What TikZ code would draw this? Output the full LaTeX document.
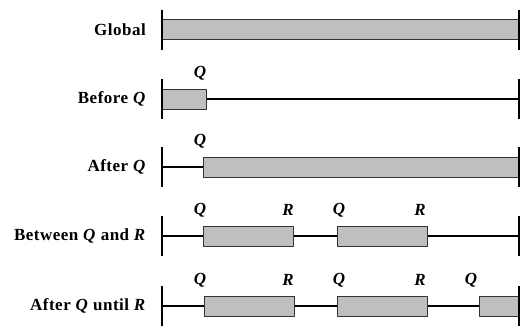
\documentclass[tikz,border=0pt]{standalone}
\usepackage{fontspec}
\setmainfont{Liberation Serif}
\newfontfamily\rowfont[LetterSpace=3]{Liberation Serif}

\begin{document}
\begin{tikzpicture}[x=1pt,y=-1pt,line join=round, font=\fontsize{17}{19}\selectfont\bfseries]
	\tikzset{bar/.style={draw=black!80,fill=gray!50,line width=0.9pt},
		axis/.style={line width=1.3pt},
		tick/.style={line width=2pt},
		lab/.style={anchor=east,inner sep=0pt,font=\rowfont\fontsize{17}{19}\selectfont\bfseries},
		ev/.style={font=\fontsize{17}{19}\selectfont\bfseries\itshape,inner sep=0pt}}
	\def\xa{162} \def\xb{519} \def\h{10} \def\t{20} \def\e{26} % ends, bar, tick, label
	\useasboundingbox (0,0) rectangle (522,327);
	\foreach \y/\nm/\txt/\bs in {29.5/glob/Global/{162/519},
		99/bef/{Before \textit{Q}}/{162/206},
		167/aft/{After \textit{Q}}/{203/519},
		236/btw/{Between \textit{Q} and \textit{R}}/{203/293,337/427},
		306/unt/{After \textit{Q} until \textit{R}}/{204/294,337/427,479/519}}{
		\node[lab] (\nm) at (146,\y) {\txt};
		\coordinate (\nm-a) at (\xa,\y);
		\coordinate (\nm-b) at (\xb,\y);
		\draw[axis] (\nm-a) -- (\nm-b);
		\foreach \p/\q in \bs {\draw[bar] (\p,\y-\h) rectangle (\q,\y+\h);}
		\draw[tick] (\xa,\y-\t) -- (\xa,\y+\t);
		\draw[tick] (\xb,\y-\t) -- (\xb,\y+\t);
	}
	% Q and R
	\node[ev] (bq) at (200,99-\e) {Q};
	\node[ev] (aq) at (200,167-\e) {Q};
	\foreach \x/\s/\nm in {200/Q/q1,288/R/r1,339/Q/q2,420/R/r2}{
		\node[ev] (btw-\nm) at (\x,236-\e) {\s};
		\node[ev] (unt-\nm) at (\x,306-\e) {\s};
	}
	\node[ev] (unt-q3) at (471,306-\e) {Q};
\end{tikzpicture}
\end{document}
